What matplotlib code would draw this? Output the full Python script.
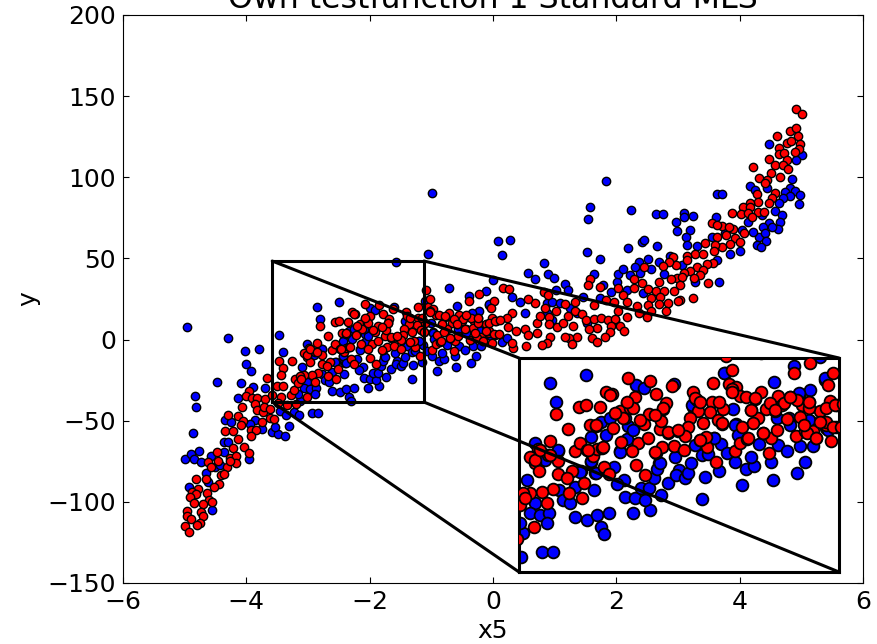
import numpy as np
import matplotlib
matplotlib.use('Agg')
import matplotlib.pyplot as plt
from matplotlib.patches import ConnectionPatch, Rectangle

# points (x5, y)
blue_left = [(-4.97,7.6),(-4.30,1.2),(-4.02,-7),(-3.79,-5.6),(-4.01,-15.2),(-3.93,-19.3),(-4.48,-26.3),(-4.09,-27),
 (-4.83,-35),(-4.81,-41.7),(-4.14,-35.8),(-3.90,-29.4),(-3.70,-30),(-4.87,-57.5),(-4.35,-49.5),(-4.25,-50.5),
 (-3.86,-49.5),(-3.94,-52),(-3.74,-55.3),(-3.59,-56.9),(-3.49,-58.1),(-3.37,-59.2),(-3.54,-53.6),(-3.31,-53.2),
 (-3.46,-43.8),(-3.35,-46.4),(-3.23,-44.8),(-4.37,-63.3),(-4.30,-62.9),(-3.47,3),(-3.41,-7.4),
 (-4.996,-73.8),(-4.90,-70.5),(-4.85,-73.5),(-4.77,-68.4),(-4.74,-75.2),(-4.58,-71.7),(-4.51,-78.7),(-4.37,-69),
 (-3.96,-73.5),(-4.43,-77.2),(-4.65,-82),(-4.93,-91),(-4.62,-87.5),(-4.55,-105)]
blue_mid = [(-2.86,20.3),(-2.49,23.1),(-2.80,12.9),(-1.99,19.4),(-1.91,18.1),(-1.60,19.8),(-3.01,-3.0),(-2.78,-6.0),
 (-2.44,-0.7),(-2.29,0.2),(-2.34,5.3),(-2.25,6.6),(-2.07,3.6),(-2.15,-6.0),(-2.08,-1.5),(-2.44,-10.1),(-2.21,-12.0),
 (-2.55,-13.7),(-3.09,-17.2),(-2.40,-14.6),(-2.11,-17.2),(-2.18,-18.7),(-2.77,-21.0),(-2.61,-20.0),(-2.41,-21.0),
 (-2.73,-24.9),(-2.66,-26.1),(-3.01,-25.9),(-3.06,-30),(-2.96,-30.6),(-2.87,-29.7),(-2.89,-33.8),(-2.61,-31.5),
 (-2.48,-32.5),(-2.38,-30.6),(-2.26,-29.7),(-2.34,-35.4),(-2.31,-37.9),(-2.02,-29.7),(-1.85,-28.7),(-2.10,-23.9),
 (-2.00,-24.2),(-1.90,-24.9),(-1.94,-20.4),(-1.86,-20.4),(-1.73,-22.9),(-1.66,-18.2),(-1.81,-16.5),(-1.76,-10.7),
 (-1.78,-13.0),(-1.55,-13.3),(-1.58,-15.2),(-1.49,-16.5),(-1.46,-14.3),(-1.43,-10.5),(-1.29,-15.9),(-1.15,-13.9),
 (-1.59,-8.2),(-1.32,-24.5),(-1.39,-3.7),(-1.32,-7.5),(-1.26,-7.1),(-1.20,-1.1),(-1.13,-3.4),(-1.07,-6.9),(-0.99,-10.1),
 (-0.87,-13.0),(-0.79,-11.8),(-0.91,-19.1),(-0.82,-8.4),(-0.62,-10.1),(-0.60,-17.2),(-0.74,-3.4),(-0.55,-3.7),(-0.46,-6.2),
 (-0.33,-4.1),(-0.19,-4),(-0.28,-10.1),(-0.36,-14.6),(-1.01,10.1),(-1.41,11.1),(-0.97,4.4),(-0.59,20.4),(-0.22,17.5),
 (-0.34,15.6),(-0.39,26.7),(-0.07,21.3),(-0.44,6.6),(-0.22,5.6),(-0.06,2.7),(-1.09,23.9),(-3.15,-46.7),(-2.94,-45),
 (-2.83,-45),(-3.13,-37.7),(-3.16,-33.8),(-1.58,48),
 (-1.10,23.9),(-1.42,11.7),(-0.98,4),(-0.95,0.2),(-1.20,-1.1),(-0.07,22),(-0.34,16.2),(-0.56,6.6),(-0.43,4),(-0.23,6),
 (-0.04,2.1),(-2.02,2.1),(-2.10,6.6),(-2.15,-6.3),(-2.44,-10),(-1.75,-10.7),(-2.78,-5.6),(-2.91,-9.5),(-2.56,-14),(-2.39,-14.6)]
blue_right = [(-0.99,90.6),(-1.05,52.6),(0.08,61),(0.27,61.6),(0.15,52.2),(1.84,97.7),(1.58,81.5),(1.54,74.1),(2.23,79.7),
 (2.65,77.2),(2.75,77.2),(3.09,77.8),(3.09,75.4),(3.24,76),(2.96,72.5),(2.98,66.7),(3.19,67.6),(3.13,63.2),(3.62,75.8),
 (3.64,89.5),(3.72,89.7),(4.16,94.7),(4.47,120.5),(5.01,113.8),(4.92,110.5),(4.85,99),(4.82,93.2),(4.73,91.2),(4.90,91.6),
 (4.98,88.9),(4.82,88.5),(4.71,87),(4.97,83.4),(4.63,84),(4.57,79.5),(4.69,76.8),(4.65,72.7),(4.48,71.7),(4.38,69.2),
 (4.62,68),(4.53,69.2),(4.31,63.5),(4.41,65.5),(4.42,61),(4.28,58.1),(4.34,57.1),(4.21,66.5),(4.13,72.7),(4.25,92.2),
 (4.45,93.6),(4.36,76.8),(4.00,54.8),(3.84,52.8),(4.03,67.6),(3.55,63),(3.76,65.5),(3.14,58.1),(3.30,57.9),(2.66,57.7),
 (2.42,60.2),(2.45,61.2),(2.19,56.3),(1.52,53.8),(1.74,49.5),(0.82,47.4),(0.56,40.9),(0.68,37.4),(0.89,40.2),(0.99,37.8),
 (1.16,34.3),(1.22,30.6),(1.02,30.6),(1.63,40.7),(0,36.8),(-0.72,31.6),(-0.12,30),(0.31,26.5),(0.44,23),
 (0.87,22.4),(0.96,23.4),(1.09,22.4),(0.52,16.6),(1.25,19.3),(1.46,26.5),(1.73,25.5),(1.92,29.6),
 (2.01,35.7),(2.03,40.4),(2.11,43.5),(1.79,33.7),(2.22,39.8),(2.38,40.9),(2.36,47.8),(2.30,45),(2.51,49.7),(2.57,43.3),
 (2.69,47.8),(2.78,40.2),(2.87,51.7),(3.06,46),(3.27,35.3),(3.66,35.7),(3.63,49.1),(2.17,30.6),(2.43,28.6),
 (0.14,-1.6),(0.23,1.2),(1.36,16.2),(1.52,10),(0.87,16.2),(0.95,12.1)]

red_left = [(-3.67,-23.9),(-3.96,-31.5),(-4.01,-34.7),(-3.91,-36.2),(-3.82,-36),(-3.69,-36.8),(-3.86,-39.7),(-4.07,-41.3),
 (-3.83,-43.4),(-3.73,-44.8),(-3.72,-41.3),(-3.62,-43),(-3.61,-48.1),(-3.55,-48.9),(-3.74,-50.8),(-4.13,-46.9),(-4.29,-46.2),
 (-4.05,-50.1),(-4.09,-52.4),(-4.34,-56.3),(-4.22,-56.3),(-3.93,-55.7),(-3.85,-55.7),(-3.93,-59.4),(-4.13,-61.4),(-4.22,-66.6),
 (-4.03,-65.9),(-3.96,-70),(-4.47,-69.4),(-4.26,-72.7),(-4.16,-71.7),(-4.16,-75.8),(-4.62,-75.2),(-4.46,-74.6),(-4.58,-78.7),
 (-4.31,-78.7),(-4.27,-74.6),(-4.41,-83.4),(-4.37,-82.8),(-4.82,-85.9),(-4.66,-86.1),(-4.44,-89.2),(-4.53,-91),(-4.78,-92),
 (-4.88,-93.7),(-4.82,-95.3),(-4.63,-94.7),(-4.91,-97.2),(-4.61,-98.8),(-4.55,-100),(-4.85,-100.4),(-4.71,-101.5),(-4.97,-105.6),
 (-4.74,-106),(-4.96,-108.5),(-4.71,-109),(-4.90,-110.7),(-4.75,-113.2),(-4.80,-114.4),(-4.996,-114.6),(-4.93,-118.5),
 (-3.47,-13.2),(-3.40,-17.7),(-3.26,-13),(-3.44,-22),(-3.51,-28.4),(-3.40,-28.6),(-3.43,-35.1),(-3.27,-34.3),(-3.21,-24.5),
 (-3.23,-31),(-3.34,-40.3),(-3.19,-39.9),(-3.59,-34.1),(-3.48,-39.3)]
red_mid = [(-2.07,22.2),(-1.85,21.1),(-1.62,19.0),(-2.29,16.9),(-2.23,16),(-1.79,16),(-2.0,14.6),(-2.08,12.6),(-2.57,10.8),
 (-2.49,11.7),(-2.35,11.1),(-2.80,8.1),(-1.68,12.4),(-1.71,10.1),(-1.41,16.9),(-1.37,13.6),(-1.21,20.1),(-1.05,19.8),(-1.02,25.2),
 (-0.97,18.8),(-0.93,15.2),(-0.72,16.6),(-0.78,13.9),(-0.55,15.3),(-0.43,14.6),(-0.31,11.7),(-0.24,13),(-0.39,23.9),(-0.22,28),
 (0.01,23.9),(-0.04,19.4),(-0.02,13.3),(-0.12,9.4),(-0.33,6.9),(-0.46,6.3),(-0.58,9.4),(-0.67,10.2),(-0.82,9.8),(-0.75,6.6),
 (-0.91,3.1),(-1.11,10.1),(-1.22,13),(-1.24,9.2),(-1.36,9.4),(-1.16,6),(-1.12,4.4),(-1.31,4.9),(-1.44,6.6),(-1.46,3.1),(-1.56,1.5),
 (-1.49,-0.2),(-1.66,1.1),(-1.75,2.4),(-1.73,5.7),(-1.86,8.1),(-1.91,4.4),(-2.15,9.5),(-2.05,10.4),(-2.12,6.6),(-2.22,2.7),(-2.45,4),
 (-2.39,3.6),(-2.68,2.3),(-2.86,-2),(-2.98,-5.2),(-3.06,-8.4),(-3.01,-10.7),(-2.97,-13.9),(-2.88,-7.5),(-2.78,-9.8),(-2.61,-6.2),
 (-2.56,-3),(-2.42,-7.9),(-2.38,-5.3),(-2.33,-4.7),(-2.48,-5.6),(-2.14,-2.6),(-1.97,-2.8),(-1.87,-1.1),(-2.03,-6),(-1.79,-6.6),
 (-1.72,-4.3),(-1.60,-4.1),(-1.50,-5.6),(-1.27,-4.3),(-1.34,-1.8),(-1.28,-0.7),(-1.18,-10.1),(-0.99,-6.2),(-0.93,-2.8),(-0.86,-1.5),
 (-0.64,-6.9),(-0.62,-0.9),(-0.70,0.8),(-0.56,2.1),(-0.37,-0.1),(-0.28,1.5),(-0.19,1.7),(-0.16,-1.1),(-0.01,-2.1),(0.04,3.1),(-0.06,4),
 (-1.99,-11.4),(-1.90,-15.2),(-2.31,-12),(-2.26,-15),(-2.64,-13.7),(-2.78,-14.8),(-2.69,-16.5),(-2.52,-18.2),(-2.83,-20.8),(-2.94,-21.7),
 (-3.06,-22),(-2.67,-22.3),(-2.54,-24),(-2.89,-26.1),(-3.16,-26.8),(-3.02,-35.4),(-3.13,-22.3),(-3.11,-24.2),
 (-1.02,17.7),(-0.63,12.4),(-0.51,11.7),(-0.36,13.6),(0.05,11.7),(-0.24,10.4),(-1.15,13),(-0.06,5.3),
 (-1.02,16.8),(-0.87,14.9),(-0.78,14.3),(-1.39,14.3),(-1.34,13),(-0.49,12.4),(-0.43,14.9),(-0.24,13),(-0.82,9.8),(-0.58,9.8),
 (-0.80,4.7),(-1.12,4.7),(-0.26,0.8),(-0.16,-1.1),(-0.70,0.8),(-0.85,-1.1),(-1.34,-1.8),(-0.06,10.4),(0.03,11.7),(0.01,3.4),
 (-0.29,4),(-0.12,5.3),(-1.71,10.4),(-2.20,8.5),(-2.02,10.4),(-2.08,13),(-1.95,5.9),(-1.80,7.9),(-1.66,1.4),(-1.56,2.1),
 (-2.47,-5.6),(-2.32,-4.3),(-3.01,-9.5),(-2.96,-5.6),(-2.86,-7.5),(-2.39,4),(-2.25,15.6),(-1.80,-6.3)]
red_right = [(4.92,141.9),(5.01,138.8),(4.82,128.8),(4.91,130.2),(4.61,125.3),(4.95,125.5),(4.76,121.4),(4.83,122.6),(4.98,120.7),
 (4.96,117.5),(4.63,117.9),(4.63,114.2),(4.72,115.2),(4.90,115.6),(4.47,111.1),(4.76,110.5),(4.57,107.4),(4.71,107.6),(4.79,105.1),
 (4.22,106.4),(4.50,102.5),(4.65,100.4),(4.32,99.8),(4.44,98.4),(4.41,96.3),(4.28,89.7),(4.57,90.1),(4.53,87),(4.29,85),(4.17,84),
 (4.06,81.9),(4.47,84),(4.17,81.5),(4.30,78.9),(4.40,78.9),(4.02,77.2),(4.13,77.8),(4.20,75.4),(3.87,78),(3.55,71.7),(3.72,70.2),
 (3.63,70.6),(3.89,68.4),(3.82,69.6),(4.07,65.9),(3.64,63),(3.78,64.5),(3.92,62.8),(4.00,60.4),(3.84,58.7),(3.71,57.3),(3.44,59.3),
 (3.60,58.3),(3.58,54.6),(3.28,53),(3.41,53),(3.14,51.7),(2.92,51.1),(3.14,49.1),(3.30,45),(3.57,47),(3.47,46.6),(3.20,42.5),
 (3.40,42.9),(3.36,39.8),(3.26,37.8),(2.97,46),(2.86,48),(2.75,45.4),(2.45,45),(3.09,40.9),(2.98,37.8),(2.88,37.2),(3.06,38.4),
 (2.69,35.7),(2.41,34.7),(3.03,33.7),(3.49,34.9),(2.28,32),(2.52,31.2),(2.65,30.2),(2.78,29.8),(2.93,30.2),(3.24,25.7),(3.03,24.4),
 (3.0,24),(2.84,22.4),(2.57,25.7),(2.71,26.1),(2.11,27.5),(2.03,31.6),(2.29,37.4),(1.58,37.6),(1.54,33.7),(1.74,32.7),(2.18,23.4),
 (2.34,20.9),(2.51,21.4),(2.69,21.8),(2.80,17.5),(2.56,17.9),(2.37,16.6),(2.49,14.2),(2.17,14.2),(1.98,12.1),(2.03,17.3),(1.84,24.4),
 (1.97,23.4),(1.33,23.4),(1.63,21.4),(1.16,22),(0.82,29.6),(0.89,27.5),(0.68,22.8),(0.56,24.8),(0.17,31.6),(0.26,31),
 (-1.08,30.6),(0.31,16.6),(0.22,13.6),(0.25,8),(0.11,12.1),(0.52,6.4),
 (0.38,5),(0.71,10),(0.84,19.3),(0.76,14.6),(1.02,17.9),(0.90,14.2),(0.91,9.4),(1.03,7.6),(1.13,10.5),(1.22,14.6),(1.33,17.7),
 (1.45,15.8),(1.50,12.1),(1.64,12.5),(1.75,13.1),(1.68,7.4),(1.87,12.1),(1.98,12.5),(1.29,8.4),(1.56,6.4),(1.92,8.4),(2.06,8.6),
 (2.12,5),(1.90,4.5),(1.82,1.8),(1.61,1.2),(1.68,-1.6),(1.36,1.8),(1.23,1.2),(1.17,1.8),(1.28,-2.9),(0.92,1.8),(0.72,3.9),(0.57,2.9),
 (0.87,-2.3),(0.79,-3.3),(0.54,-3.9),(0.33,-5.3),(0.30,-2.3),(0.09,3.3)]

blue = np.array(blue_left + blue_mid + blue_right)
red = np.array(red_left + red_mid + red_right)

title = 'Own testfunction 1 Standard MLS'
# the box drawn on the main axes and the limits shown in the inset are not the same
box_x = (-3.58, -1.12)
box_y = (-38.5, 48.4)
inset_x = (-3.174, 0.069)
inset_y = (-52.6, 29.8)

W, H = 878, 644
fig = plt.figure(figsize = (W/100, H/100), dpi = 100)
ax = fig.add_axes([123/W, 1 - 583/H, 740/W, 568/H])
ax.scatter(blue[:,0], blue[:,1], s = 36, c = 'blue', edgecolors = 'black', linewidths = 1, zorder = 2)
ax.scatter(red[:,0], red[:,1], s = 36, c = 'red', edgecolors = 'black', linewidths = 1, zorder = 3)
ax.set_xlim(-6, 6)
ax.set_ylim(-150, 200)
ax.set_xticks(np.arange(-6, 7, 2))
ax.set_yticks(np.arange(-150, 201, 50))
ax.tick_params(direction = 'in', top = True, right = True, length = 4, labelsize = 18, pad = 5)
ax.set_title(title, fontsize = 22.8, pad = 5)
ax.set_xlabel('x5', fontsize = 18, labelpad = 4)
ax.set_ylabel('y', fontsize = 18, labelpad = 5)

# zoomed part
axins = fig.add_axes([519/W, 1 - 572/H, 320/W, 214/H], zorder = 5)
axins.scatter(blue[:,0], blue[:,1], s = 72, c = 'blue', edgecolors = 'black', linewidths = 1.3, zorder = 2)
axins.scatter(red[:,0], red[:,1], s = 72, c = 'red', edgecolors = 'black', linewidths = 1.3, zorder = 3)
axins.set_xlim(*inset_x)
axins.set_ylim(*inset_y)
axins.set_xticks([])
axins.set_yticks([])
for s in axins.spines.values():
    s.set_linewidth(2.2)

ax.add_patch(Rectangle((box_x[0], box_y[0]), box_x[1] - box_x[0], box_y[1] - box_y[0],
                       fill = False, ec = 'black', lw = 2.2, zorder = 6))
corners = [(box_x[0], box_y[1], 0, 1), (box_x[1], box_y[1], 1, 1),
           (box_x[0], box_y[0], 0, 0), (box_x[1], box_y[0], 1, 0)]
for cx, cy, fx, fy in corners:
    con = ConnectionPatch(xyA = (cx, cy), coordsA = ax.transData, xyB = (fx, fy), coordsB = axins.transAxes,
                          color = 'black', lw = 2.2, zorder = 10)
    fig.add_artist(con)

plt.savefig('out.png', dpi = 100)
